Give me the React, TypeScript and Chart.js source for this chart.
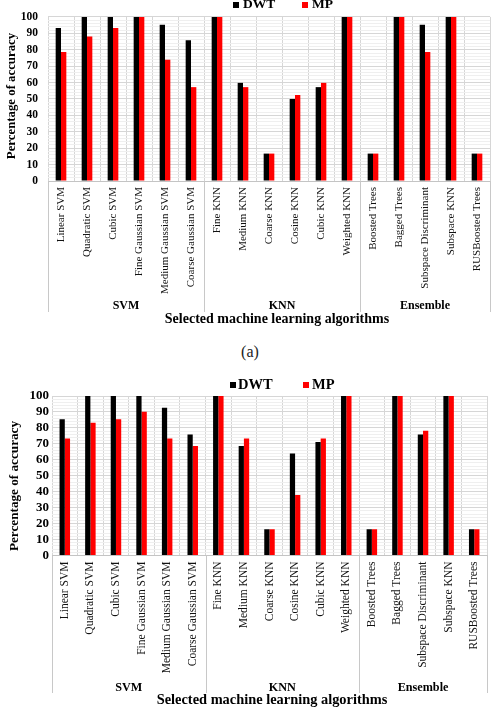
import { useEffect, useRef } from 'react';
import { Chart, registerables } from 'chart.js';

Chart.register(...registerables);

const SERIF = "'Liberation Serif', 'Times New Roman', serif";

// Classifiers, in the order they appear on the category axis
const algorithms = [
  'Linear SVM',
  'Quadratic SVM',
  'Cubic SVM',
  'Fine Gaussian SVM',
  'Medium Gaussian SVM',
  'Coarse Gaussian SVM',
  'Fine KNN',
  'Medium KNN',
  'Coarse KNN',
  'Cosine KNN',
  'Cubic KNN',
  'Weighted KNN',
  'Boosted Trees',
  'Bagged Trees',
  'Subspace Discriminant',
  'Subspace KNN',
  'RUSBoosted Trees',
];

// Classifier families and how many consecutive algorithms belong to each
const groupNames = ['SVM', 'KNN', 'Ensemble'];
const groupSizes = [6, 6, 5];

const seriesNames = ['DWT', 'MP'];
const seriesColors = ['#000000', '#ff0000'];

// Panel (a) accuracies (%)
const dwtA = [93.3, 100, 100, 100, 95.2, 85.7, 100, 59.8, 16.7, 50.0, 57.2, 100, 16.7, 100, 95.2, 100, 16.7];
const mpA = [78.6, 88.1, 93.3, 100, 73.9, 57.2, 100, 57.2, 16.7, 52.4, 59.8, 100, 16.7, 100, 78.6, 100, 16.7];

// Panel (b) accuracies (%)
const dwtB = [85.4, 100, 100, 100, 92.7, 75.9, 100, 68.6, 16.5, 64.0, 71.1, 100, 16.5, 100, 75.9, 100, 16.5];
const mpB = [73.4, 83.3, 85.4, 90.2, 73.4, 68.6, 100, 73.4, 16.5, 37.9, 73.4, 100, 16.5, 100, 78.2, 100, 16.5];

// Value axis: labelled every 10, light minor grid every 2
const yMin = 0;
const yMax = 100;
const yMajorStep = 10;
const yMinorStep = 2;

const yAxisTitle = 'Percentage of accuracy';
const xAxisTitle = 'Selected machine learning algorithms';

type Frame = {
  top: number;
  height: number;
  area: { left: number; right: number; top: number; bottom: number };
  yTickFont: number;
  yTickPad: number;
  catFont: number;
  catPad: number;
  legend: { boxX: number[]; textX: number[]; boxTop: number; baseline: number; font: number };
  yTitle: { x: number; y: number; font: number };
  xTitle: { x: number; y: number; font: number };
  groupY: number;
  groupFont: number;
  sepBottom: number;
};

const frameA: Frame = {
  top: 0,
  height: 335,
  area: { left: 48, right: 490, top: 13, bottom: 181 },
  yTickFont: 11.5,
  yTickPad: 10,
  catFont: 11,
  catPad: 6,
  legend: { boxX: [233, 302], textX: [243, 312], boxTop: 2, baseline: 8, font: 13.5 },
  yTitle: { x: 12, y: 96, font: 12.8 },
  xTitle: { x: 277, y: 319, font: 14 },
  groupY: 306,
  groupFont: 12,
  sepBottom: 312,
};

const frameB: Frame = {
  top: 360,
  height: 356,
  area: { left: 52, right: 487, top: 36, bottom: 195.5 },
  yTickFont: 13,
  yTickPad: 3,
  catFont: 11.5,
  catPad: 6,
  legend: { boxX: [230, 303], textX: [238, 312], boxTop: 22, baseline: 29, font: 14.5 },
  yTitle: { x: 15, y: 126, font: 13.2 },
  xTitle: { x: 272, y: 340, font: 14.4 },
  groupY: 328,
  groupFont: 12.2,
  sepBottom: 333,
};

function Panel({ dwt, mp, frame }: { dwt: number[]; mp: number[]; frame: Frame }) {
  const canvasRef = useRef<HTMLCanvasElement | null>(null);

  useEffect(() => {
    const canvas = canvasRef.current;
    if (!canvas) return;
    const f = frame;

    // Legend, family labels, separators and axis titles
    const decor = {
      id: 'decor',
      afterDraw(chart: any) {
        const { ctx, chartArea } = chart;
        const x = chart.scales.x;
        const half = (x.getPixelForValue(1) - x.getPixelForValue(0)) / 2;
        ctx.save();

        const edges: number[] = [x.getPixelForValue(0) - half];
        let count = 0;
        groupSizes.forEach((n) => {
          count += n;
          edges.push(x.getPixelForValue(count - 1) + half);
        });
        ctx.strokeStyle = '#c8c8c8';
        ctx.lineWidth = 1;
        edges.forEach((px) => {
          const xx = Math.round(px) + 0.5;
          ctx.beginPath();
          ctx.moveTo(xx, chartArea.bottom);
          ctx.lineTo(xx, f.sepBottom);
          ctx.stroke();
        });

        ctx.fillStyle = '#000';
        ctx.textAlign = 'center';
        ctx.textBaseline = 'middle';
        ctx.font = `bold ${f.groupFont}px ${SERIF}`;
        groupNames.forEach((g, i) => {
          ctx.fillText(g, (edges[i] + edges[i + 1]) / 2, f.groupY);
        });

        ctx.font = `bold ${f.xTitle.font}px ${SERIF}`;
        ctx.fillText(xAxisTitle, f.xTitle.x, f.xTitle.y);

        ctx.save();
        ctx.translate(f.yTitle.x, f.yTitle.y);
        ctx.rotate(-Math.PI / 2);
        ctx.font = `bold ${f.yTitle.font}px ${SERIF}`;
        ctx.fillText(yAxisTitle, 0, 0);
        ctx.restore();

        ctx.textAlign = 'left';
        ctx.textBaseline = 'alphabetic';
        ctx.font = `bold ${f.legend.font}px ${SERIF}`;
        chart.data.datasets.forEach((ds: any, i: number) => {
          ctx.fillStyle = ds.backgroundColor;
          ctx.fillRect(f.legend.boxX[i], f.legend.boxTop, 6, 6);
          ctx.fillStyle = '#000';
          ctx.fillText(ds.label, f.legend.textX[i], f.legend.baseline);
        });

        ctx.restore();
      },
    };

    const chart = new Chart(canvas, {
      type: 'bar',
      data: {
        labels: algorithms,
        datasets: [dwt, mp].map((values, i) => ({
          label: seriesNames[i],
          data: values,
          backgroundColor: seriesColors[i],
          borderWidth: 0,
          categoryPercentage: 0.41,
          barPercentage: 1,
        })),
      },
      options: {
        animation: false,
        responsive: false,
        maintainAspectRatio: false,
        layout: {
          padding: { top: f.area.top, right: 498 - f.area.right, left: 0, bottom: 0 },
        },
        plugins: {
          legend: { display: false },
          tooltip: { enabled: false },
        },
        scales: {
          x: {
            grid: { offset: true, color: '#d6d6d6', drawTicks: false },
            border: { color: '#c4c4c4' },
            ticks: {
              autoSkip: false,
              minRotation: 90,
              maxRotation: 90,
              padding: f.catPad,
              color: '#111',
              font: { family: SERIF, size: f.catFont },
            },
            afterFit: (s: any) => {
              s.height = f.height - f.area.bottom;
            },
          },
          y: {
            min: yMin,
            max: yMax,
            grid: {
              drawTicks: false,
              color: (c: any) =>
                c.tick && c.tick.value % yMajorStep === 0 ? '#d6d6d6' : '#efefef',
            },
            border: { display: false },
            ticks: {
              stepSize: yMinorStep,
              autoSkip: false,
              padding: f.yTickPad,
              color: '#000',
              font: { family: SERIF, size: f.yTickFont, weight: 'bold' },
              callback: (v: any) => (Number(v) % yMajorStep === 0 ? String(v) : ''),
            },
            afterFit: (s: any) => {
              s.width = f.area.left;
            },
          },
        },
      },
      plugins: [decor],
    } as any);

    return () => chart.destroy();
  }, [dwt, mp, frame]);

  return (
    <div
      style={{
        position: 'absolute',
        left: 0,
        top: frame.top,
        width: 498,
        height: frame.height,
      }}
    >
      <canvas ref={canvasRef} width={498} height={frame.height} style={{ width: 498, height: frame.height, display: 'block' }} />
    </div>
  );
}

export default function App() {
  return (
    <div
      style={{
        position: 'absolute',
        left: 0,
        top: 0,
        width: 498,
        height: 716,
        background: '#ffffff',
        overflow: 'hidden',
      }}
    >
      <Panel dwt={dwtA} mp={mpA} frame={frameA} />
      <div
        style={{
          position: 'absolute',
          left: 0,
          width: 500,
          top: 341,
          textAlign: 'center',
          fontFamily: SERIF,
          fontSize: 16,
          color: '#222',
          lineHeight: '22px',
        }}
      >
        (a)
      </div>
      <Panel dwt={dwtB} mp={mpB} frame={frameB} />
    </div>
  );
}
